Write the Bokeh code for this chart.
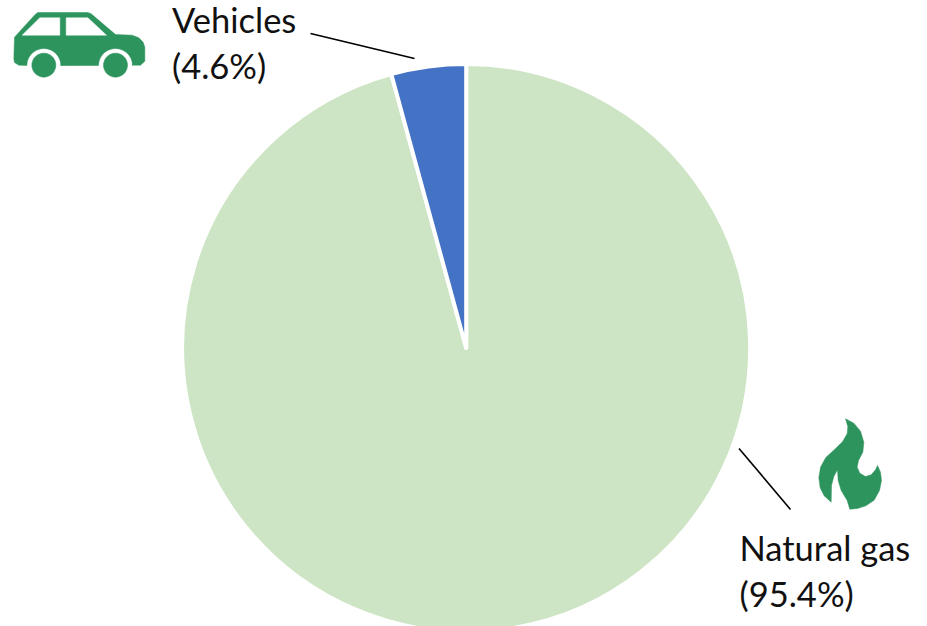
import math
from bokeh.plotting import figure
from bokeh.models import Range1d
from bokeh.core.properties import value
from bokeh.embed import file_html
from bokeh.resources import INLINE

categories = ["Vehicles", "Natural gas"]
label_shares = ["(4.6%)", "(95.4%)"]
drawn_shares = [4.25, 95.75]
colors = ["#4472C4", "#CDE5C5"]
icon_color = "#2E945E"

W, H = 927, 626
p = figure(width=W, height=H, output_backend="svg", toolbar_location=None,
           x_range=Range1d(0, W), y_range=Range1d(0, H),
           min_border=0, outline_line_color=None, background_fill_color="white")
p.axis.visible = False
p.grid.visible = False

def Y(py):
    return 626 - py

cx, cy, r = 465.7, Y(347.5), 284
a = math.pi / 2
ends = []
for s in drawn_shares:
    b = a + s / 100 * 2 * math.pi
    ends.append((a, b))
    a = b
for i in [1, 0]:
    p.wedge(x=[cx], y=[cy], radius=r, start_angle=ends[i][0], end_angle=ends[i][1],
            fill_color=colors[i], line_color="white", line_width=4, line_join="round")

# leader lines
p.line([310, 414], [Y(33), Y(58)], line_color="black", line_width=1.6)
p.line([738.5, 790], [Y(448), Y(509)], line_color="black", line_width=1.6)

# labels
font = value("Lato")
def label(x, py, t):
    p.text(x=[x], y=[Y(py)], text=[t], text_font=font, text_font_size="34.5px",
           text_color="#111111", text_baseline="alphabetic", text_align="left")
label(171.5, 19, categories[0]); label(171.5, 65, label_shares[0])
label(739, 547, categories[1]); label(739, 593, label_shares[1])

def cz(pts, ox=0, oy=0):
    return [ox + q[0] / 3 for q in pts], [Y(oy + q[1] / 3) for q in pts]

def arc(cxx, cyy, rad, a0, a1, n=14):
    return [(cxx + rad * math.cos(math.radians(a0 + (a1 - a0) * i / n)),
             cyy + rad * math.sin(math.radians(a0 + (a1 - a0) * i / n))) for i in range(n + 1)]

# car icon (outline in 3x crop coordinates)
car = ([(42, 110), (104, 42), (112, 36), (262, 36), (272, 40), (345, 102), (395, 104), (415, 112),
        (428, 125), (433, 140), (433, 182), (420, 194), (395, 194)]
       + arc(345, 195, 51, 0, -180)
       + [(180, 194)]
       + arc(130, 195, 51, 0, -180)
       + [(55, 194), (42, 186), (40, 175)])
x, y = cz(car)
p.patch(x, y, fill_color=icon_color, line_color=icon_color, line_width=0.5)
for win in ([(65, 104), (118, 52), (178, 52), (178, 104)], [(197, 52), (262, 52), (318, 104), (197, 104)]):
    x, y = cz(win)
    p.patch(x, y, fill_color="white", line_color="white", line_width=0.5)
for wx in (130, 345):
    x, y = cz(arc(wx, 194, 36, 0, 360, 40))
    p.patch(x, y, fill_color=icon_color, line_color=icon_color, line_width=0.5)

# flame icon (outline in 3x crop coordinates, offset 720,400)
flame = [(375, 55), (400, 68), (420, 92), (430, 125), (427, 155), (414, 180), (410, 200), (418, 218),
         (435, 228), (452, 223), (465, 208), (471, 195), (480, 215), (483, 240), (477, 270), (461, 299),
         (436, 316), (411, 324), (388, 326), (380, 300), (362, 270), (353, 240), (351, 208), (340, 228),
         (333, 255), (332, 305), (311, 286), (299, 262), (295, 232), (300, 200), (316, 171), (343, 146),
         (366, 124), (380, 100), (382, 78)]
x, y = cz(flame, 720, 400)
p.patch(x, y, fill_color=icon_color, line_color=icon_color, line_width=0.5)

open("out.html", "w").write(file_html(p, INLINE))
